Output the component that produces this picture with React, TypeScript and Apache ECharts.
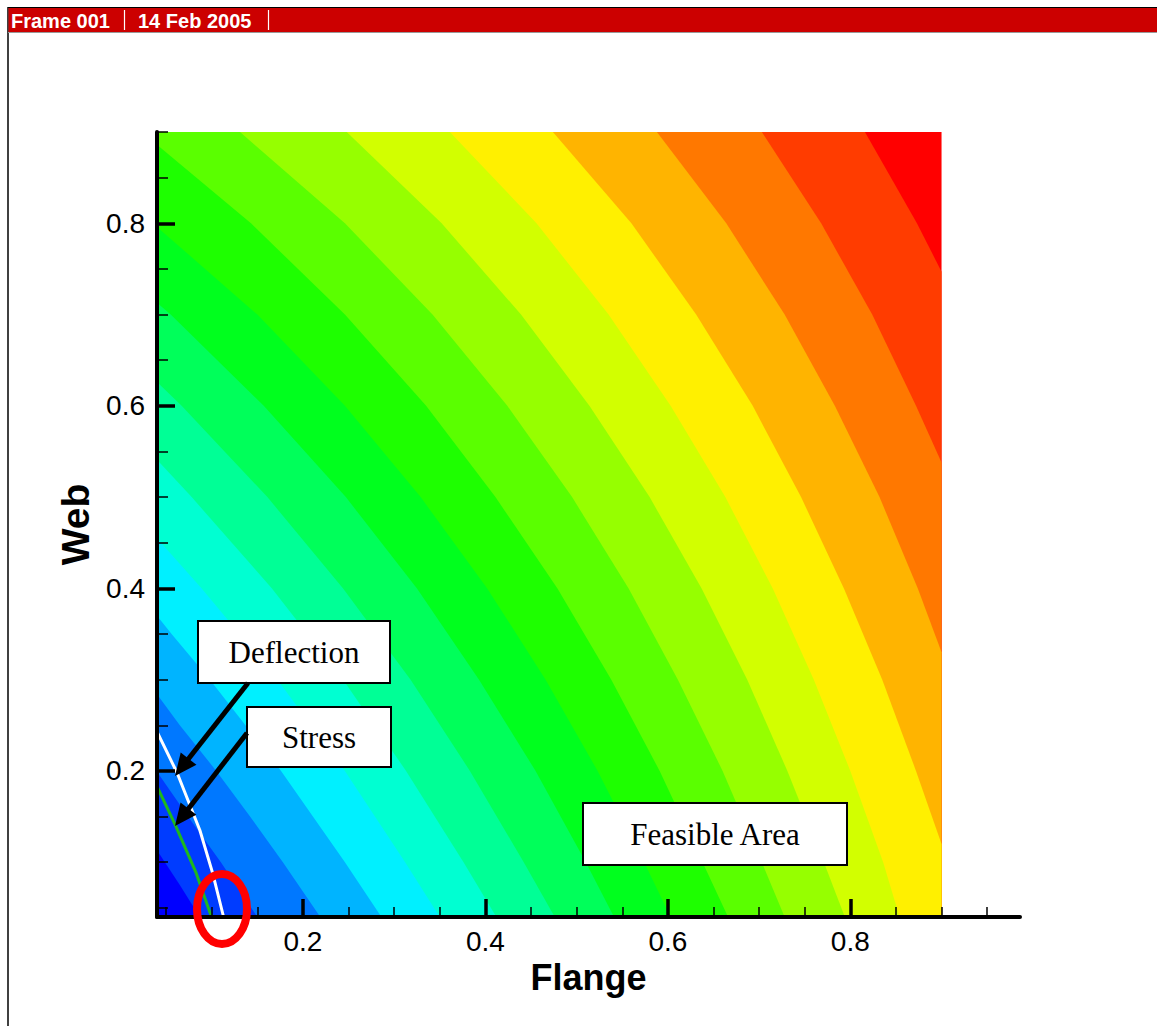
import React, { useEffect, useRef } from "react";
import * as echarts from "echarts";

// ---- axis ranges ----
const X_MIN = 0.04;
const X_DATA_MAX = 0.9;
const X_AXIS_MAX = 0.986;
const Y_MIN = 0.04;
const Y_MAX = 0.9;

// ---- tick values ----
const majorTicks = [0.2, 0.4, 0.6, 0.8];
const minorTicksX = [0.05, 0.1, 0.15, 0.25, 0.3, 0.35, 0.45, 0.5, 0.55, 0.65, 0.7, 0.75, 0.85, 0.9, 0.95];
const minorTicksY = [0.05, 0.1, 0.15, 0.25, 0.3, 0.35, 0.45, 0.5, 0.55, 0.65, 0.7, 0.75, 0.85, 0.9];

// ---- contour band colours (band 1 = lowest, band 18 = highest) ----
const bandColors = [
  "#0000FF", "#003CFF", "#0078FF", "#00B4FF", "#00F0FF", "#00FFD2",
  "#00FF96", "#00FF5A", "#00FF1E", "#1EFF00", "#5AFF00", "#96FF00",
  "#D2FF00", "#FFF000", "#FFB400", "#FF7800", "#FF3C00", "#FF0000",
];

// ---- contour boundaries (Flange, Web), from upper-left end to lower-right end ----
const level01 = [[0.04, 0.113], [0.065, 0.075], [0.087, 0.04]];
const level02 = [[0.04, 0.199], [0.074, 0.15], [0.11, 0.1], [0.15, 0.04]];
const level03 = [[0.04, 0.284], [0.065, 0.25], [0.105, 0.2], [0.142, 0.15], [0.178, 0.1], [0.219, 0.04]];
const level04 = [[0.04, 0.37], [0.056, 0.35], [0.098, 0.3], [0.176, 0.2], [0.246, 0.1], [0.286, 0.04]];
const level05 = [[0.04, 0.455], [0.089, 0.4], [0.172, 0.3], [0.246, 0.2], [0.312, 0.1], [0.35, 0.04]];
const level06 = [[0.04, 0.541], [0.078, 0.5], [0.166, 0.4], [0.244, 0.3], [0.313, 0.2], [0.376, 0.1], [0.412, 0.04]];
const level07 = [[0.04, 0.626], [0.067, 0.6], [0.161, 0.5], [0.244, 0.4], [0.318, 0.3], [0.383, 0.2], [0.442, 0.1], [0.476, 0.04]];
const level08 = [[0.04, 0.713], [0.055, 0.7], [0.157, 0.6], [0.247, 0.5], [0.325, 0.4], [0.393, 0.3], [0.455, 0.2], [0.51, 0.1], [0.541, 0.04]];
const level09 = [[0.04, 0.796], [0.15, 0.7], [0.246, 0.6], [0.329, 0.5], [0.402, 0.4], [0.466, 0.3], [0.523, 0.2], [0.574, 0.1], [0.603, 0.04]];
const level10 = [[0.04, 0.886], [0.143, 0.8], [0.246, 0.7], [0.335, 0.6], [0.411, 0.5], [0.479, 0.4], [0.538, 0.3], [0.591, 0.2], [0.638, 0.1], [0.666, 0.04]];
const level11 = [[0.131, 0.9], [0.246, 0.8], [0.342, 0.7], [0.424, 0.6], [0.495, 0.5], [0.557, 0.4], [0.611, 0.3], [0.66, 0.2], [0.703, 0.1], [0.728, 0.04]];
const level12 = [[0.248, 0.9], [0.352, 0.8], [0.439, 0.7], [0.514, 0.6], [0.58, 0.5], [0.637, 0.4], [0.687, 0.3], [0.731, 0.2], [0.771, 0.1], [0.794, 0.04]];
const level13 = [[0.361, 0.9], [0.456, 0.8], [0.535, 0.7], [0.603, 0.6], [0.663, 0.5], [0.715, 0.4], [0.76, 0.3], [0.8, 0.2], [0.836, 0.1], [0.854, 0.04]];
const level14 = [[0.474, 0.9], [0.56, 0.8], [0.631, 0.7], [0.693, 0.6], [0.746, 0.5], [0.793, 0.4], [0.835, 0.3], [0.872, 0.2], [0.9, 0.12]];
const level15 = [[0.588, 0.9], [0.664, 0.8], [0.728, 0.7], [0.783, 0.6], [0.832, 0.5], [0.874, 0.4], [0.9, 0.33]];
const level16 = [[0.703, 0.9], [0.768, 0.8], [0.824, 0.7], [0.872, 0.6], [0.9, 0.538]];
const level17 = [[0.816, 0.9], [0.873, 0.8], [0.9, 0.747]];

const contourLevels = [
  level01, level02, level03, level04, level05, level06, level07, level08, level09,
  level10, level11, level12, level13, level14, level15, level16, level17,
];

// ---- constraint curves ----
const deflectionLine = [[0.04, 0.243], [0.062, 0.198], [0.087, 0.135], [0.101, 0.088], [0.113, 0.04]];
const stressLine = [[0.04, 0.183], [0.06, 0.141], [0.083, 0.088], [0.098, 0.045], [0.1, 0.04]];

// draw order: highest band first (painter's algorithm)
const drawLevels = [18, 17, 16, 15, 14, 13, 12, 11, 10, 9, 8, 7, 6, 5, 4, 3, 2, 1];

function arrow(sx: number, sy: number, tx: number, ty: number, z: number) {
  const dx = tx - sx;
  const dy = ty - sy;
  const len = Math.sqrt(dx * dx + dy * dy);
  const ux = dx / len;
  const uy = dy / len;
  const L = 22;
  const W = 10;
  const bx = tx - L * ux;
  const by = ty - L * uy;
  const nx = -uy;
  const ny = ux;
  return [
    {
      type: "line",
      z,
      shape: { x1: sx, y1: sy, x2: bx + ux * 2, y2: by + uy * 2 },
      style: { stroke: "#000", lineWidth: 5 },
    },
    {
      type: "polygon",
      z,
      shape: { points: [[tx, ty], [bx + W * nx, by + W * ny], [bx - W * nx, by - W * ny]] },
      style: { fill: "#000" },
    },
  ];
}

function labelBox(x: number, y: number, w: number, h: number, text: string) {
  return [
    {
      type: "rect",
      z: 100,
      shape: { x, y, width: w, height: h },
      style: { fill: "#FFFFFF", stroke: "#000", lineWidth: 2 },
    },
    {
      type: "text",
      z: 101,
      x: x + w / 2,
      y: y + h / 2,
      style: {
        text,
        fill: "#000",
        fontSize: 31,
        fontFamily: '"Liberation Serif", "Times New Roman", serif',
        align: "center",
        verticalAlign: "middle",
        textAlign: "center",
        textVerticalAlign: "middle",
      },
    },
  ];
}

export default function App() {
  const ref = useRef<HTMLDivElement>(null);

  useEffect(() => {
    if (!ref.current) return;
    const chart = echarts.init(ref.current, null, { renderer: "svg" });

    const axisFont = '"Liberation Sans", Arial, sans-serif';

    const option: any = {
      animation: false,
      backgroundColor: "#FFFFFF",
      grid: { left: 157, top: 132, width: 863, height: 785, containLabel: false },
      xAxis: [
        {
          type: "value",
          min: X_MIN,
          max: X_AXIS_MAX,
          position: "bottom",
          z: 10,
          name: "Flange",
          nameLocation: "middle",
          nameGap: 36,
          nameTextStyle: { fontSize: 36, fontWeight: "bold", fontFamily: axisFont, color: "#000" },
          axisLine: { show: true, onZero: false, lineStyle: { color: "#000", width: 4 } },
          axisTick: { show: true, inside: true, length: 18, lineStyle: { color: "#000", width: 3.5 }, customValues: majorTicks },
          axisLabel: {
            show: true,
            customValues: majorTicks,
            margin: 10,
            fontSize: 28,
            fontFamily: axisFont,
            color: "#000",
            formatter: (v: number) => v.toFixed(1),
          },
          splitLine: { show: false },
        },
        {
          type: "value",
          min: X_MIN,
          max: X_AXIS_MAX,
          position: "bottom",
          z: 10,
          axisLine: { show: false },
          axisTick: { show: true, inside: true, length: 10, lineStyle: { color: "#000", width: 1.5 }, customValues: minorTicksX },
          axisLabel: { show: false },
          splitLine: { show: false },
        },
      ],
      yAxis: [
        {
          type: "value",
          min: Y_MIN,
          max: Y_MAX,
          position: "left",
          z: 10,
          name: "Web",
          nameLocation: "middle",
          nameRotate: 90,
          nameGap: 58,
          nameTextStyle: { fontSize: 39, fontWeight: "bold", fontFamily: axisFont, color: "#000" },
          axisLine: { show: true, onZero: false, lineStyle: { color: "#000", width: 4 } },
          axisTick: { show: true, inside: true, length: 18, lineStyle: { color: "#000", width: 3.5 }, customValues: majorTicks },
          axisLabel: {
            show: true,
            customValues: majorTicks,
            margin: 12,
            fontSize: 28,
            fontFamily: axisFont,
            color: "#000",
            formatter: (v: number) => v.toFixed(1),
          },
          splitLine: { show: false },
        },
        {
          type: "value",
          min: Y_MIN,
          max: Y_MAX,
          position: "left",
          z: 10,
          axisLine: { show: false },
          axisTick: { show: true, inside: true, length: 11, lineStyle: { color: "#000", width: 1.5 }, customValues: minorTicksY },
          axisLabel: { show: false },
          splitLine: { show: false },
        },
      ],
      series: [
        {
          type: "custom",
          xAxisIndex: 0,
          yAxisIndex: 0,
          z: 1,
          silent: true,
          data: drawLevels.map((L) => [X_MIN, Y_MIN, L]),
          renderItem: (params: any, api: any) => {
            const L = api.value(2);
            let pts: number[][];
            if (L === 18) {
              pts = [[X_MIN, Y_MIN], [X_DATA_MAX, Y_MIN], [X_DATA_MAX, Y_MAX], [X_MIN, Y_MAX]];
            } else {
              const b = contourLevels[L - 1];
              pts = b.slice();
              const first = b[0];
              const last = b[b.length - 1];
              if (last[0] >= X_DATA_MAX - 1e-6) pts.push([X_DATA_MAX, Y_MIN]);
              pts.push([X_MIN, Y_MIN]);
              if (first[1] >= Y_MAX - 1e-6) pts.push([X_MIN, Y_MAX]);
            }
            return {
              type: "polygon",
              shape: { points: pts.map((p) => api.coord(p)) },
              style: { fill: bandColors[L - 1] },
            };
          },
        },
        {
          type: "line",
          name: "Deflection",
          xAxisIndex: 0,
          yAxisIndex: 0,
          z: 3,
          silent: true,
          symbol: "none",
          showSymbol: false,
          data: deflectionLine,
          lineStyle: { color: "#FFFFFF", width: 3 },
        },
        {
          type: "line",
          name: "Stress",
          xAxisIndex: 0,
          yAxisIndex: 0,
          z: 3,
          silent: true,
          symbol: "none",
          showSymbol: false,
          data: stressLine,
          lineStyle: { color: "#1EB81E", width: 3 },
        },
      ],
      graphic: {
        elements: [
          // frame border
          { type: "line", z: 50, shape: { x1: 8, y1: 7, x2: 8, y2: 1026 }, style: { stroke: "#000", lineWidth: 1.5 } },
          { type: "line", z: 50, shape: { x1: 8, y1: 7.5, x2: 1157, y2: 7.5 }, style: { stroke: "#000", lineWidth: 1 } },
          // header bar
          { type: "rect", z: 51, shape: { x: 8.5, y: 8, width: 1149, height: 24 }, style: { fill: "#CC0000" } },
          { type: "line", z: 51, shape: { x1: 8, y1: 32.5, x2: 1157, y2: 32.5 }, style: { stroke: "#999", lineWidth: 1 } },
          {
            type: "text",
            z: 52,
            x: 11,
            y: 21,
            style: {
              text: "Frame 001",
              fill: "#FFFFFF",
              fontSize: 20,
              fontWeight: "bold",
              fontFamily: axisFont,
              align: "left",
              verticalAlign: "middle",
              textAlign: "left",
              textVerticalAlign: "middle",
            },
          },
          { type: "line", z: 52, shape: { x1: 124.5, y1: 10, x2: 124.5, y2: 30 }, style: { stroke: "#FFFFFF", lineWidth: 1.2 } },
          {
            type: "text",
            z: 52,
            x: 138,
            y: 21,
            style: {
              text: "14 Feb 2005",
              fill: "#FFFFFF",
              fontSize: 20,
              fontWeight: "bold",
              fontFamily: axisFont,
              align: "left",
              verticalAlign: "middle",
              textAlign: "left",
              textVerticalAlign: "middle",
            },
          },
          { type: "line", z: 52, shape: { x1: 268.5, y1: 10, x2: 268.5, y2: 30 }, style: { stroke: "#FFFFFF", lineWidth: 1.2 } },
          // annotation boxes
          ...labelBox(198, 621, 192, 62, "Deflection"),
          ...labelBox(247, 707, 144, 60, "Stress"),
          ...labelBox(583, 803, 264, 62, "Feasible Area"),
          // arrows
          ...arrow(248, 683, 175, 776, 100),
          ...arrow(247, 733, 175, 826, 100),
          // red ellipse highlight
          {
            type: "ellipse",
            z: 110,
            shape: { cx: 222, cy: 909, rx: 25, ry: 35 },
            style: { fill: "none", stroke: "#FF0000", lineWidth: 8 },
          },
        ],
      },
    };

    chart.setOption(option);
    return () => {
      chart.dispose();
    };
  }, []);

  return (
    <div
      ref={ref}
      style={{ position: "fixed", left: 0, top: 0, width: 1157, height: 1026, background: "#FFFFFF" }}
    />
  );
}
